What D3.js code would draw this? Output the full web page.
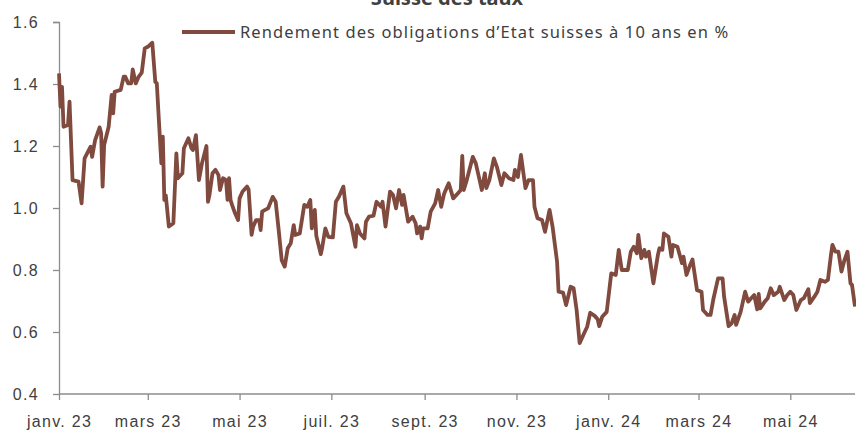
<!DOCTYPE html>
<html>
<head>
<meta charset="utf-8">
<script src="https://cdn.jsdelivr.net/npm/d3@7.9.0/dist/d3.min.js"></script>
<style>
  body { margin: 0; background: #fff; }
  svg { display: block; font-family: "Noto Sans", "Open Sans", sans-serif; }
</style>
</head>
<body>
<svg id="chart" width="856" height="432"></svg>
<script>
const title = "Suisse des taux";
const seriesName = "Rendement des obligations d\u2019Etat suisses à 10 ans en %";

const dates = [
  "2023-01-03","2023-01-04","2023-01-05","2023-01-06","2023-01-09","2023-01-10","2023-01-12","2023-01-16","2023-01-18","2023-01-20",
  "2023-01-24","2023-01-25","2023-01-27","2023-01-30","2023-01-31","2023-02-01","2023-02-02","2023-02-05","2023-02-07","2023-02-08",
  "2023-02-09","2023-02-13","2023-02-15","2023-02-16","2023-02-18","2023-02-20","2023-02-21","2023-02-23","2023-02-25","2023-02-27",
  "2023-03-01","2023-03-03","2023-03-06","2023-03-08","2023-03-09","2023-03-12","2023-03-13","2023-03-14","2023-03-15","2023-03-17",
  "2023-03-20","2023-03-22","2023-03-23","2023-03-26","2023-03-27","2023-03-30","2023-04-01","2023-04-02","2023-04-04","2023-04-06",
  "2023-04-08","2023-04-11","2023-04-12","2023-04-13","2023-04-15","2023-04-17","2023-04-19","2023-04-20","2023-04-22","2023-04-24",
  "2023-04-25","2023-04-26","2023-04-27","2023-04-28","2023-04-30","2023-05-02","2023-05-03","2023-05-05","2023-05-08","2023-05-09",
  "2023-05-11","2023-05-12","2023-05-14","2023-05-16","2023-05-17","2023-05-18","2023-05-20","2023-05-22","2023-05-25","2023-05-27",
  "2023-05-29","2023-05-31","2023-06-02","2023-06-04","2023-06-06","2023-06-08","2023-06-09","2023-06-12","2023-06-15","2023-06-17",
  "2023-06-19","2023-06-20","2023-06-22","2023-06-23","2023-06-26","2023-06-27","2023-06-29","2023-07-01","2023-07-04","2023-07-06",
  "2023-07-08","2023-07-11","2023-07-13","2023-07-16","2023-07-19","2023-07-20","2023-07-22","2023-07-25","2023-07-26","2023-07-28",
  "2023-07-31","2023-08-02","2023-08-05","2023-08-06","2023-08-08","2023-08-11","2023-08-13","2023-08-15","2023-08-17","2023-08-19",
  "2023-08-20","2023-08-23","2023-08-26","2023-08-28","2023-08-29","2023-08-31","2023-09-01","2023-09-02","2023-09-05","2023-09-07",
  "2023-09-10","2023-09-12","2023-09-14","2023-09-16","2023-09-18","2023-09-19","2023-09-22","2023-09-25","2023-09-27","2023-09-28",
  "2023-09-29","2023-10-01","2023-10-05","2023-10-07","2023-10-09","2023-10-11","2023-10-13","2023-10-14","2023-10-16","2023-10-19",
  "2023-10-21","2023-10-24","2023-10-26","2023-10-29","2023-11-01","2023-11-02","2023-11-04","2023-11-06","2023-11-09","2023-11-11",
  "2023-11-14","2023-11-15","2023-11-17","2023-11-20","2023-11-22","2023-11-25","2023-11-27","2023-11-30","2023-12-01","2023-12-04",
  "2023-12-06","2023-12-09","2023-12-11","2023-12-13","2023-12-15","2023-12-18","2023-12-20","2023-12-22","2023-12-25","2023-12-27",
  "2023-12-28","2023-12-30","2024-01-02","2024-01-05","2024-01-08","2024-01-10","2024-01-12","2024-01-16","2024-01-18","2024-01-20",
  "2024-01-22","2024-01-23","2024-01-25","2024-01-27","2024-01-28","2024-01-30","2024-02-02","2024-02-05","2024-02-06","2024-02-08",
  "2024-02-09","2024-02-12","2024-02-14","2024-02-15","2024-02-18","2024-02-21","2024-02-22","2024-02-24","2024-02-26","2024-02-28",
  "2024-03-02","2024-03-05","2024-03-06","2024-03-09","2024-03-11","2024-03-13","2024-03-16","2024-03-19","2024-03-20","2024-03-23",
  "2024-03-25","2024-03-27","2024-03-28","2024-03-31","2024-04-03","2024-04-05","2024-04-07","2024-04-09","2024-04-11","2024-04-12",
  "2024-04-13","2024-04-16","2024-04-18","2024-04-20","2024-04-22","2024-04-25","2024-04-26","2024-04-29","2024-05-01","2024-05-03",
  "2024-05-05","2024-05-07","2024-05-10","2024-05-12","2024-05-15","2024-05-16","2024-05-19","2024-05-21","2024-05-23","2024-05-26",
  "2024-05-28","2024-05-30","2024-05-31","2024-06-02","2024-06-04","2024-06-06","2024-06-08","2024-06-10","2024-06-12","2024-06-13",
  "2024-06-15"
];

const yields = [
  1.434,1.327,1.391,1.262,1.268,1.343,1.090,1.085,1.015,1.160,
  1.198,1.165,1.219,1.260,1.241,1.069,1.203,1.262,1.365,1.305,
  1.375,1.381,1.424,1.424,1.402,1.402,1.447,1.402,1.424,1.437,
  1.515,1.520,1.533,1.407,1.402,1.144,1.230,1.026,1.040,0.940,
  0.951,1.176,1.096,1.112,1.193,1.225,1.193,1.187,1.235,1.090,
  1.144,1.200,1.020,1.042,1.112,1.123,1.106,1.058,1.096,1.090,
  1.026,1.096,1.026,1.010,0.983,0.961,1.031,1.053,1.069,1.060,
  0.913,0.940,0.961,0.961,0.929,0.988,0.994,0.999,1.036,1.020,
  0.929,0.832,0.811,0.870,0.886,0.945,0.913,0.918,1.010,1.004,
  1.026,0.934,0.994,0.910,0.851,0.875,0.934,0.907,0.905,1.020,
  1.036,1.069,0.983,0.951,0.875,0.945,0.918,0.902,0.956,0.972,
  0.975,1.020,1.004,1.020,0.940,1.053,1.042,0.999,1.058,1.010,
  1.042,0.956,0.972,0.951,0.918,0.940,0.902,0.934,0.934,0.988,
  1.015,1.058,1.004,1.047,1.069,1.080,1.031,1.047,1.058,1.168,
  1.058,1.090,1.165,1.144,1.101,1.058,1.112,1.064,1.090,1.160,
  1.133,1.074,1.112,1.096,1.090,1.123,1.100,1.171,1.064,1.090,
  1.090,1.004,0.967,0.961,0.923,0.994,0.940,0.827,0.730,0.727,
  0.687,0.746,0.741,0.671,0.564,0.596,0.617,0.662,0.652,0.641,
  0.619,0.649,0.665,0.789,0.784,0.865,0.800,0.800,0.859,0.875,
  0.854,0.913,0.838,0.865,0.843,0.859,0.757,0.848,0.870,0.865,
  0.918,0.907,0.843,0.881,0.875,0.822,0.843,0.784,0.811,0.834,
  0.735,0.730,0.671,0.655,0.655,0.709,0.773,0.773,0.714,0.619,
  0.628,0.655,0.623,0.665,0.730,0.698,0.709,0.719,0.673,0.723,
  0.676,0.698,0.709,0.741,0.719,0.730,0.746,0.703,0.719,0.730,
  0.719,0.671,0.703,0.709,0.738,0.693,0.714,0.730,0.768,0.762,
  0.768,0.848,0.881,0.859,0.859,0.795,0.832,0.859,0.757,0.752,
  0.682
];

const xTickDates = ["2023-01-03","2023-03-03","2023-05-03","2023-07-03","2023-09-03","2023-11-03","2024-01-03","2024-03-03","2024-05-03"];
const xTickLabels = ["janv. 23","mars 23","mai 23","juil. 23","sept. 23","nov. 23","janv. 24","mars 24","mai 24"];
const yTicks = [0.4, 0.6, 0.8, 1.0, 1.2, 1.4, 1.6];

const parse = d3.timeParse("%Y-%m-%d");
const data = dates.map((d, i) => ({ date: parse(d), value: yields[i] }));

const svg = d3.select("#chart");
const margin = { top: 22, right: 1, bottom: 38, left: 59 };
const width = +svg.attr("width") - margin.left - margin.right;
const height = +svg.attr("height") - margin.top - margin.bottom;

const g = svg.append("g")
  .attr("transform", `translate(${margin.left},${margin.top})`);

const x = d3.scaleTime()
  .domain([parse(dates[0]), parse(dates[dates.length - 1])])
  .range([0, width]);

const y = d3.scaleLinear()
  .domain([0.4, 1.6])
  .range([height, 0]);

const axisColor = "#8c8c8c";
const textColor = "#404040";

// axe X
const xAxis = g.append("g")
  .attr("transform", `translate(0,${height})`)
  .call(d3.axisBottom(x)
    .tickValues(xTickDates.map(parse))
    .tickFormat((d, i) => xTickLabels[i])
    .tickSize(6)
    .tickPadding(16));

// axe Y
const yAxis = g.append("g")
  .call(d3.axisLeft(y)
    .tickValues(yTicks)
    .tickFormat(d3.format(".1f"))
    .tickSize(6)
    .tickPadding(14));

[xAxis, yAxis].forEach(a => {
  a.select(".domain").attr("stroke", axisColor).attr("stroke-width", 1.3);
  a.selectAll(".tick line").attr("stroke", axisColor).attr("stroke-width", 1.3);
  a.selectAll(".tick text")
    .attr("fill", textColor)
    .attr("font-size", "16px")
    .attr("letter-spacing", "1.3px");
});
xAxis.select(".domain").attr("d", `M0.5,0H${width}`);
yAxis.select(".domain").attr("d", `M0.5,${height}V0.5H-6`);

// courbe
const line = d3.line()
  .x(d => x(d.date))
  .y(d => y(d.value));

const lineColor = "#804a3f";

g.append("path")
  .datum(data)
  .attr("fill", "none")
  .attr("stroke", lineColor)
  .attr("stroke-width", 3.8)
  .attr("stroke-linejoin", "round")
  .attr("d", line);

// titre (coupé en haut, comme l'original)
svg.append("text")
  .attr("x", 447)
  .attr("y", 5)
  .attr("text-anchor", "middle")
  .attr("font-size", "20px")
  .attr("font-weight", "bold")
  .attr("fill", textColor)
  .text(title);

// légende
svg.append("line")
  .attr("x1", 182)
  .attr("x2", 235)
  .attr("y1", 32)
  .attr("y2", 32)
  .attr("stroke", lineColor)
  .attr("stroke-width", 3.8);

svg.append("text")
  .attr("x", 240)
  .attr("y", 37.5)
  .attr("font-size", "16.5px")
  .attr("letter-spacing", "1.1px")
  .attr("fill", textColor)
  .text(seriesName);
</script>
</body>
</html>
